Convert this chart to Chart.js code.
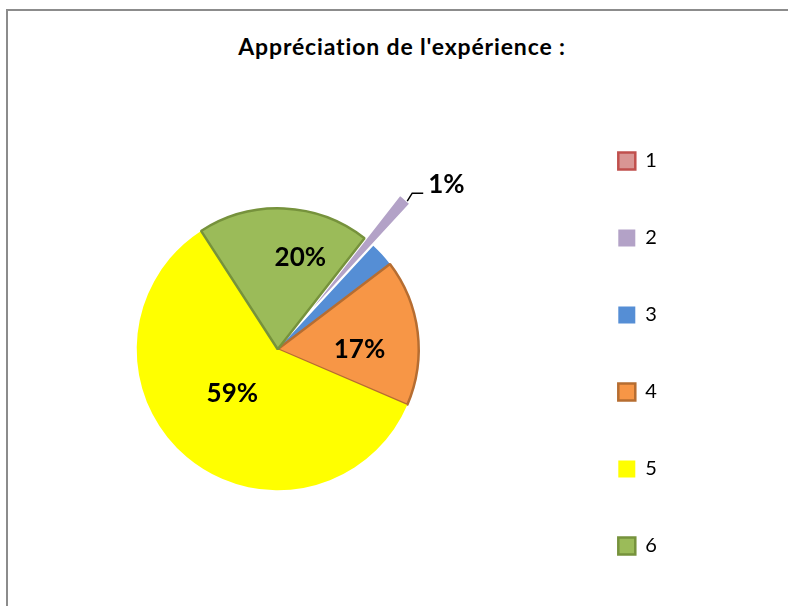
<!DOCTYPE html>
<html>
<head>
<meta charset="utf-8">
<script src="https://cdn.jsdelivr.net/npm/chart.js@4"></script>
<style>
  html, body { margin: 0; padding: 0; background: #fff; overflow: hidden; }
  #frame { position: absolute; left: 6px; top: 9px; width: 900px; height: 700px;
           border-left: 2px solid #8c8c8c; border-top: 2px solid #8c8c8c; }
  #title { position: absolute; left: 0; top: 32px; width: 804px; text-align: center;
           font: bold 23px Lato, sans-serif; line-height: 28px; letter-spacing: 0.85px; color: #000; }
  #wrap { position: absolute; left: -8px; top: 0; width: 796px; height: 620px; }
</style>
</head>
<body>
<div id="frame"></div>
<div id="title">Appréciation de l'expérience :</div>
<div id="wrap"><canvas id="pie"></canvas></div>
<script>
// categories and shares (%) (slice angles)
const categories = ["1", "2", "3", "4", "5", "6"];
const shares = [0, 1.3, 2.8, 16.8, 59.4, 19.7];

const fills = ["#D99694", "#B3A2C7", "#558ED5", "#F79646", "#FFFF00", "#9BBB59"];
const edges = ["#C0504D", "#B3A2C7", "#558ED5", "#B66D31", "#FFFF00", "#76923C"];
const edgeWidths = [2.5, 0, 0, 2.5, 0, 2.5];

// pull a slice straight out along its middle angle (Excel style explosion)
const explodeSlice = {
    id: "explodeSlice",
    afterDatasetsUpdate(chart, args, opts) {
        chart.getDatasetMeta(0).data.forEach((arc, i) => {
            const d = opts.distance[i];
            if (!d) return;
            const baseDraw = Object.getPrototypeOf(arc).draw;
            arc.draw = function (ctx) {
                const mid = (this.startAngle + this.endAngle) / 2;
                ctx.save();
                ctx.translate(Math.cos(mid) * d, Math.sin(mid) * d);
                baseDraw.call(this, ctx);
                ctx.restore();
            };
        });
    }
};

// percentage labels drawn on the slices
const pieLabels = {
    id: "pieLabels",
    afterDatasetsDraw(chart, args, opts) {
        const ctx = chart.ctx;
        const meta = chart.getDatasetMeta(0);
        const data = chart.data.datasets[0].data;
        const total = data.reduce((a, b) => a + b, 0);
        const pulled = chart.options.plugins.explodeSlice.distance;
        ctx.save();
        ctx.font = opts.font;
        ctx.fillStyle = "#000";
        ctx.strokeStyle = "#000";
        ctx.lineWidth = 1.5;
        meta.data.forEach((arc, i) => {
            if (opts.hidden.includes(i)) return;
            const p = arc.getProps(["x", "y", "startAngle", "endAngle", "outerRadius"], true);
            const txt = Math.round(data[i] / total * 100) + "%";
            const mid = (p.startAngle + p.endAngle) / 2;
            if (opts.outside.includes(i)) {
                const r = p.outerRadius + (pulled[i] || 0) + 1;
                const x0 = p.x + Math.cos(mid) * r + 2;
                const y0 = p.y + Math.sin(mid) * r + 2;
                ctx.beginPath();
                ctx.moveTo(x0, y0);
                ctx.lineTo(x0 + 5, y0 - 8);
                ctx.lineTo(x0 + 16, y0 - 8);
                ctx.stroke();
                ctx.textAlign = "left";
                ctx.textBaseline = "alphabetic";
                ctx.fillText(txt, x0 + 21, y0 - 8);
            } else {
                const [f, shift] = opts.place[i];
                const a = mid + shift * Math.PI / 180;
                ctx.textAlign = "center";
                ctx.textBaseline = "middle";
                ctx.fillText(txt, p.x + Math.cos(a) * p.outerRadius * f, p.y + Math.sin(a) * p.outerRadius * f);
            }
        });
        ctx.restore();
    }
};

new Chart(document.getElementById("pie"), {
    type: "pie",
    data: {
        labels: categories,
        datasets: [{
            data: shares,
            backgroundColor: fills,
            borderColor: edges,
            borderWidth: edgeWidths
        }]
    },
    options: {
        responsive: true,
        maintainAspectRatio: false,
        animation: false,
        rotation: 38,
        radius: 141,
        layout: { padding: { left: 2.1, right: 126.7, top: 85.6, bottom: 7 } },
        plugins: {
            title: { display: false },
            tooltip: { enabled: false },
            legend: {
                position: "right",
                align: "end",
                maxWidth: 100,
                labels: {
                    boxWidth: 17,
                    boxHeight: 17,
                    padding: 57,
                    color: "#000",
                    font: { family: "Lato", size: 20 }
                }
            },
            explodeSlice: { distance: [0, 55, 0, 0, 0, 0] },
            pieLabels: {
                font: "bold 26px Lato",
                hidden: [0, 2],
                outside: [1],
                place: { 3: [0.58, 7], 4: [0.45, 5.5], 5: [0.67, 11.3] }
            }
        }
    },
    plugins: [explodeSlice, pieLabels]
});
</script>
</body>
</html>
